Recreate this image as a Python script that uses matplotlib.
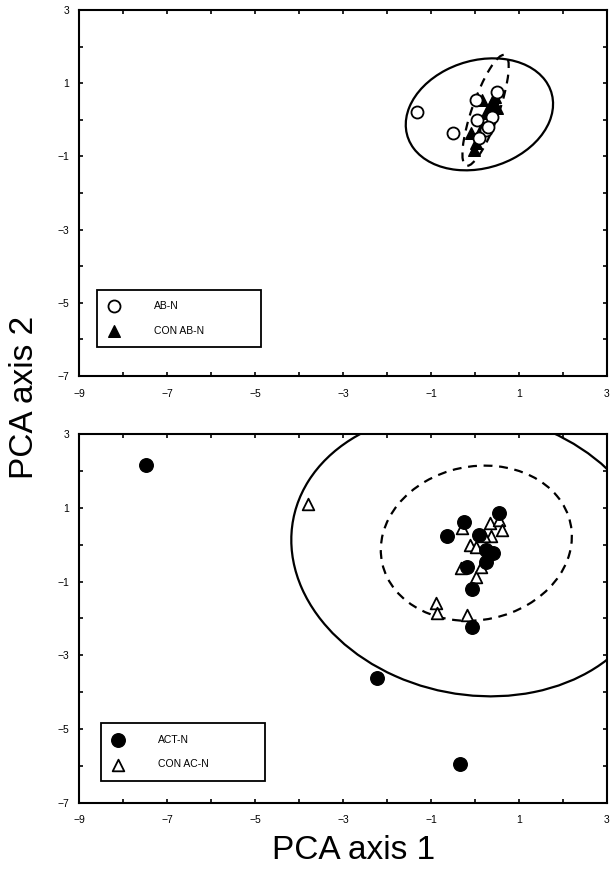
import matplotlib
matplotlib.use("Agg")
import matplotlib.pyplot as plt
import matplotlib.ticker as tick
from matplotlib.patches import Ellipse

plt.rcParams['font.family'] = ['Liberation Sans', 'DejaVu Sans']

# top panel: AB-N vs CON AB-N
abn_x = [-1.32, -0.50, 0.03, 0.51, 0.05, 0.39, 0.26, 0.10, 0.30]
abn_y = [0.21, -0.36, 0.54, 0.76, 0.00, 0.08, -0.28, -0.50, -0.20]
con_abn_x = [0.17, 0.39, 0.49, 0.26, 0.17, -0.09, 0.03, -0.02, 0.33, 0.45]
con_abn_y = [0.54, 0.49, 0.32, 0.19, -0.20, -0.36, -0.63, -0.83, 0.35, 0.62]

# bottom panel: ACT-N vs CON AC-N
act_x = [-7.47, -2.23, -0.35, -0.06, -0.25, -0.63, 0.55, 0.10, 0.26, 0.40, 0.26, -0.18, -0.06]
act_y = [2.16, -3.61, -5.95, -2.23, 0.62, 0.24, 0.86, 0.27, -0.14, -0.22, -0.46, -0.60, -1.20]
con_acn_x = [-3.79, -0.89, -0.86, -0.18, -0.29, -0.11, -0.31, 0.03, 0.33, 0.55, 0.62, 0.37, 0.21, 0.14, 0.03]
con_acn_y = [1.10, -1.59, -1.86, -1.90, 0.44, -0.01, -0.63, -0.88, 0.59, 0.67, 0.40, 0.24, 0.24, -0.60, -0.06]

# ellipses: (cx, cy, width, height, angle) in data units
top_solid = (0.10, 0.15, 3.52, 2.86, 32)
top_dashed = (0.24, 0.26, 3.15, 0.62, 74)
bot_solid = (-0.05, -0.25, 8.45, 7.5, -28)
bot_dashed = (0.03, 0.04, 4.47, 4.07, 35)

fig = plt.figure(figsize=(6.1, 8.73), dpi=100)
ax1 = fig.add_axes([0.1295, 0.5693, 0.8656, 0.4192])
ax2 = fig.add_axes([0.1295, 0.0802, 0.8656, 0.4227])


def style_axes(ax):
    ax.set_xlim(-9, 3)
    ax.set_ylim(-7, 3)
    ax.xaxis.set_major_locator(tick.FixedLocator([-9, -7, -5, -3, -1, 1, 3]))
    ax.xaxis.set_minor_locator(tick.FixedLocator([-8, -6, -4, -2, 0, 2]))
    ax.yaxis.set_major_locator(tick.FixedLocator([-7, -5, -3, -1, 1, 3]))
    ax.yaxis.set_minor_locator(tick.FixedLocator([-6, -4, -2, 0, 2]))
    ax.tick_params(which='both', direction='in', length=3, width=1.2,
                   top=True, right=True, labelsize=7.5)
    ax.tick_params(axis='x', pad=9)
    ax.tick_params(axis='y', pad=7)
    for sp in ax.spines.values():
        sp.set_linewidth(1.5)


def add_ellipse(ax, e, ls):
    cx, cy, w, h, ang = e
    ax.add_patch(Ellipse((cx, cy), w, h, angle=ang, fill=False,
                         edgecolor='black', linewidth=1.6, linestyle=ls))


def add_legend(ax, handles, labels, anchor):
    leg = ax.legend(handles, labels, loc='lower left', bbox_to_anchor=anchor,
                    mode='expand', fontsize=7.5, borderpad=1.1, labelspacing=1.4,
                    handlelength=1.0, handletextpad=3.4, fancybox=False,
                    framealpha=1, edgecolor='black', borderaxespad=0)
    leg.get_frame().set_linewidth(1.3)


style_axes(ax1)
add_ellipse(ax1, top_solid, '-')
add_ellipse(ax1, top_dashed, (0, (4, 3)))
ax1.scatter(con_abn_x, con_abn_y, marker='^', s=70, c='black', zorder=3, label='CON AB-N')
ax1.scatter(abn_x, abn_y, marker='o', s=75, facecolors='white', edgecolors='black',
            linewidths=1.3, zorder=4, label='AB-N')
h, l = ax1.get_legend_handles_labels()
add_legend(ax1, [h[1], h[0]], [l[1], l[0]], (0.034, 0.079, 0.31, 0.164))

style_axes(ax2)
add_ellipse(ax2, bot_solid, '-')
add_ellipse(ax2, bot_dashed, (0, (4, 3)))
ax2.scatter(con_acn_x, con_acn_y, marker='^', s=70, facecolors='white', edgecolors='black',
            linewidths=1.3, zorder=3, label='CON AC-N')
ax2.scatter(act_x, act_y, marker='o', s=95, c='black', zorder=4, label='ACT-N')
h, l = ax2.get_legend_handles_labels()
add_legend(ax2, [h[1], h[0]], [l[1], l[0]], (0.042, 0.06, 0.31, 0.164))

fig.text(0.040, 0.545, 'PCA axis 2', rotation=90, fontsize=24, ha='center', va='center')
fig.text(0.58, 0.026, 'PCA axis 1', fontsize=24, ha='center', va='center')

fig.savefig('out.png', dpi=100)
